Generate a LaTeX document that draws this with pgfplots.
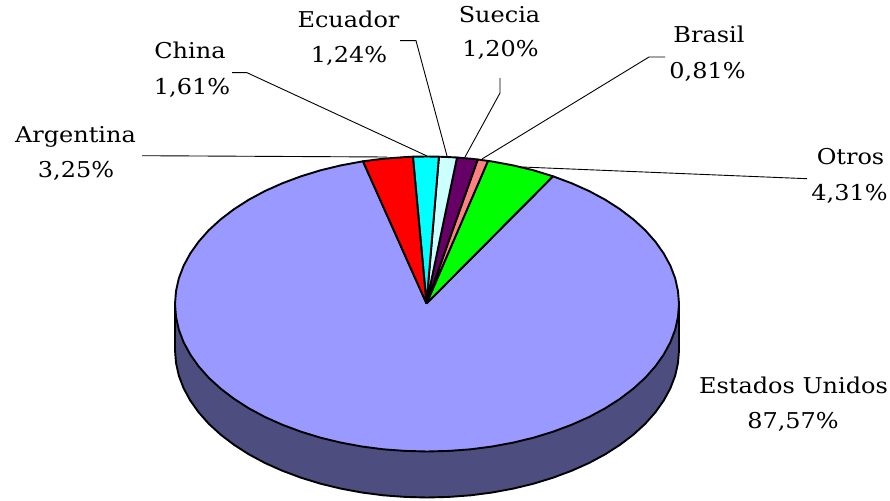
\documentclass[border=0pt]{standalone}
\usepackage{fontspec}
\setmainfont[FakeStretch=1.1]{DejaVu Serif}
\usepackage{pgfplots}
\pgfplotsset{compat=1.18}
\definecolor{lav}{HTML}{9999FF}
\definecolor{sidec}{HTML}{4D4D80}
\definecolor{ltcy}{HTML}{CCFFFF}
\definecolor{purp}{HTML}{660066}
\definecolor{pinkc}{HTML}{FF8080}
\definecolor{cyanc}{HTML}{00FFFF}
\definecolor{greenc}{HTML}{00FF00}
\definecolor{redc}{HTML}{FF0000}
\newcommand{\lab}[3]{\node[anchor=base,inner sep=0pt,text=black,font=\fontsize{21.8}{21.8}\selectfont] at (axis cs:#1,#2) {#3};}
\begin{document}
\begin{tikzpicture}
\begin{axis}[
  scale only axis, width=890pt, height=500pt,
  xmin=0, xmax=890, ymin=0, ymax=500, y dir=reverse,
  hide axis, clip=false]
\path[use as bounding box] (axis cs:0,0) rectangle (axis cs:890,500);
\pgfplotsset{pie/.style={draw=black,line width=1.9pt,line join=round},lead/.style={draw=black,line width=0.9pt}}
% side wall
\addplot[pie,fill=sidec] coordinates {(175,304)(175,350)(176,362.9)(178.8,375.6)(183.6,388.2)(190.2,400.4)(198.6,412.3)(208.8,423.8)(220.6,434.6)(234,444.8)(248.8,454.3)(265,463)(282.5,470.8)(301,477.7)(320.5,483.7)(340.8,488.6)(361.8,492.5)(383.3,495.3)(405,496.9)(427,497.5)(449,496.9)(470.7,495.3)(492.2,492.5)(513.2,488.6)(533.5,483.7)(553,477.7)(571.5,470.8)(589,463)(605.2,454.3)(620,444.8)(633.4,434.6)(645.2,423.8)(655.4,412.3)(663.8,400.4)(670.4,388.2)(675.2,375.6)(678,362.9)(679,350)(679,304)(175,304)};
% Estados Unidos 87.57
\addplot[pie,fill=lav] coordinates {(426.5,303.5)(553,176.3)(571.5,183.2)(589,191)(605.2,199.7)(620,209.2)(633.4,219.4)(645.2,230.2)(655.4,241.7)(663.8,253.6)(670.4,265.8)(675.2,278.4)(678,291.1)(679,304)(678,316.9)(675.2,329.6)(670.4,342.2)(663.8,354.4)(655.4,366.3)(645.2,377.8)(633.4,388.6)(620,398.8)(605.2,408.3)(589,417)(571.5,424.8)(553,431.7)(533.5,437.7)(513.2,442.6)(492.2,446.5)(470.7,449.3)(449,450.9)(427,451.5)(405,450.9)(383.3,449.3)(361.8,446.5)(340.8,442.6)(320.5,437.7)(301,431.7)(282.5,424.8)(265,417)(248.8,408.3)(234,398.8)(220.6,388.6)(208.8,377.8)(198.6,366.3)(190.2,354.4)(183.6,342.2)(178.8,329.6)(176,316.9)(175,304)(176,291.1)(178.8,278.4)(183.6,265.8)(190.2,253.6)(198.6,241.7)(208.8,230.2)(220.6,219.4)(234,209.2)(248.8,199.7)(265,191)(282.5,183.2)(301,176.3)(320.5,170.3)(340.8,165.4)(361.8,161.5)(363,161.3)(426.5,303.5)};
% Otros 4.31
\addplot[pie,fill=greenc] coordinates {(426.5,303.5)(553,176.3)(533.5,170.3)(513.2,165.4)(492.2,161.5)(488,160.9)(426.5,303.5)};
% Brasil 0.81
\addplot[pie,fill=pinkc] coordinates {(426.5,303.5)(488,160.9)(477.7,159.5)(426.5,303.5)};
% Suecia 1.20
\addplot[pie,fill=purp] coordinates {(426.5,303.5)(477.7,159.5)(470.7,158.7)(457,157.5)(426.5,303.5)};
% Ecuador 1.24
\addplot[pie,fill=ltcy] coordinates {(426.5,303.5)(457,157.5)(449,157.1)(438.9,156.7)(426.5,303.5)};
% China 1.61
\addplot[pie,fill=cyanc] coordinates {(426.5,303.5)(438.9,156.7)(427,156.5)(412.9,156.7)(426.5,303.5)};
% Argentina 3.25
\addplot[pie,fill=redc] coordinates {(426.5,303.5)(412.9,156.7)(405,157.1)(383.3,158.7)(363,161.3)(426.5,303.5)};
% leaders
\addplot[lead] coordinates {(142,155.7)(387,157)};
\addplot[lead] coordinates {(232,72.7)(247,72.7)(427,156)};
\addplot[lead] coordinates {(400,40.7)(416,40.7)(447,156)};
\addplot[lead] coordinates {(500,78)(500,93)(465,157)};
\addplot[lead] coordinates {(665,57)(649,57)(482,159)};
\addplot[lead] coordinates {(807,178.7)(790,178)(522,167)};
% labels
\lab{75.5}{142}{Argentina}\lab{76}{177}{3,25\%}
\lab{190}{59}{China}\lab{192}{95}{1,61\%}
\lab{348.5}{28}{Ecuador}\lab{349}{63}{1,24\%}
\lab{499.5}{22.7}{Suecia}\lab{500.5}{57}{1,20\%}
\lab{709}{43}{Brasil}\lab{707.5}{79}{0,81\%}
\lab{850.5}{164}{Otros}\lab{849.5}{200}{4,31\%}
\lab{793.5}{393}{Estados Unidos}\lab{793}{428}{87,57\%}
\end{axis}
\end{tikzpicture}
\end{document}
